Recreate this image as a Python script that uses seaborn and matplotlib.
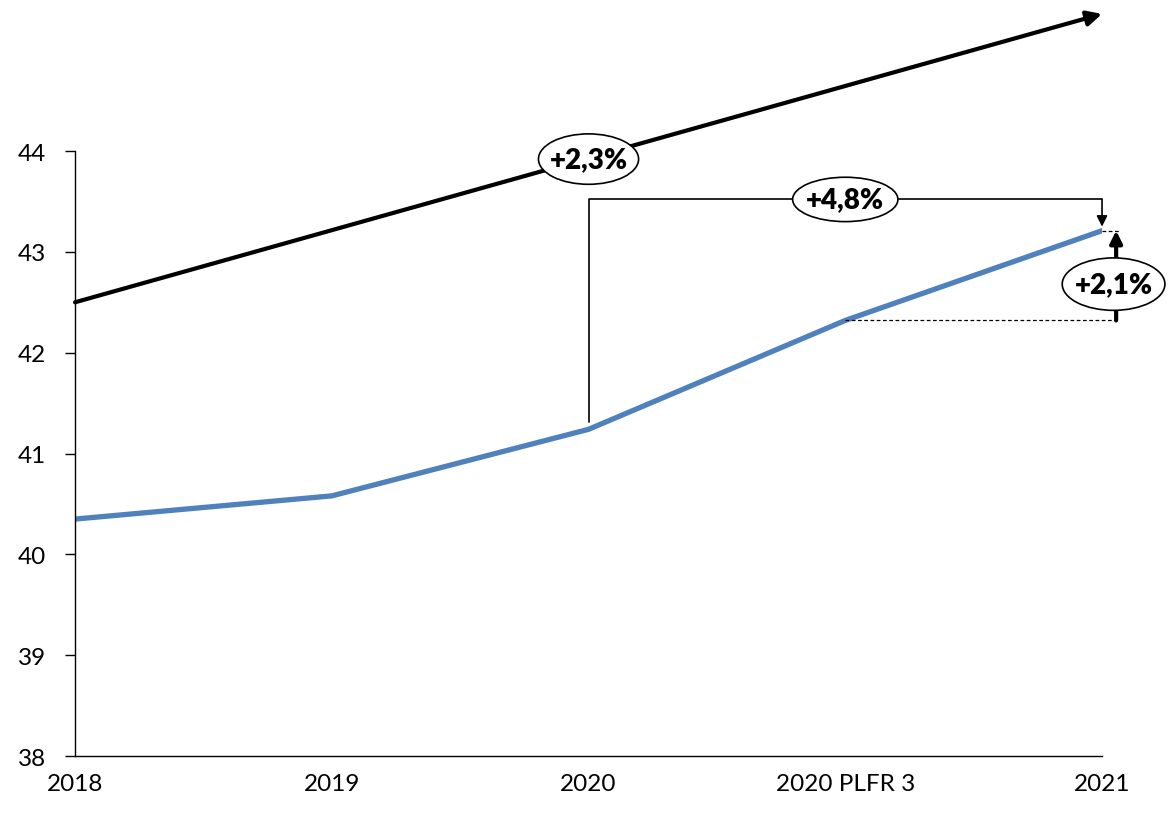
import pandas as pd
import seaborn as sns
import matplotlib.pyplot as plt
from matplotlib.patches import Ellipse

categories = ["2018", "2019", "2020", "2020 PLFR 3", "2021"]
values = [40.35, 40.58, 41.24, 42.32, 43.21]
trend_start = 42.50
trend_end = 45.36
labels = ["+2,3%", "+4,8%", "+2,1%"]

df = pd.DataFrame({"x": range(len(categories)), "val": values})

sns.set_style("white")
plt.rcParams['font.family'] = ['Lato', 'DejaVu Sans']
plt.rcParams['text.color'] = 'black'
plt.rcParams['xtick.color'] = 'black'
plt.rcParams['ytick.color'] = 'black'

fig = plt.figure(figsize=(11.69, 8.2), dpi=100)
ax = fig.add_axes([0.0642, 0.0768, 0.8785, 0.7378])

sns.lineplot(data=df, x="x", y="val", color="#4F81BD", linewidth=3.8, ax=ax)

last = len(categories) - 1

# black trend arrow running above the plot
ax.annotate("", xy=(last, trend_end), xytext=(0, trend_start),
            annotation_clip=False,
            arrowprops=dict(arrowstyle="-|>", color="black", lw=3,
                            mutation_scale=22, shrinkA=0, shrinkB=0))

# bracket from 2020 to 2021
ax.plot([2, 2, last], [values[2] + 0.07, 43.52, 43.52], color="black", lw=1.2, clip_on=False)
ax.annotate("", xy=(last, values[-1] + 0.04), xytext=(last, 43.52), annotation_clip=False,
            arrowprops=dict(arrowstyle="-|>", color="black", lw=1.2,
                            mutation_scale=16, shrinkA=0, shrinkB=0))

# dashed guides and small up arrow
ax.plot([3, 4.07], [values[3], values[3]], color="black", lw=0.9, ls=(0, (3, 2)), clip_on=False)
ax.plot([last, 4.07], [values[-1], values[-1]], color="black", lw=0.9, ls=(0, (3, 2)), clip_on=False)
ax.annotate("", xy=(4.055, values[-1]), xytext=(4.055, values[3]), annotation_clip=False,
            arrowprops=dict(arrowstyle="-|>", color="black", lw=3,
                            mutation_scale=18, shrinkA=0, shrinkB=0))

# ellipse labels
spots = [(2.0, 43.92, 0.39, 0.50), (3.0, 43.52, 0.41, 0.44), (4.045, 42.68, 0.40, 0.52)]
for (cx, cy, w, h), lab in zip(spots, labels):
    ax.add_patch(Ellipse((cx, cy), w, h, fc="white", ec="black", lw=1.2,
                         clip_on=False, zorder=5))
    ax.text(cx, cy, lab, ha="center", va="center", fontsize=20,
            fontweight="heavy", zorder=6, clip_on=False)

ax.set_xlim(0, last)
ax.set_ylim(38, 44)
ax.set_xticks(range(len(categories)))
ax.set_xticklabels(categories)
ax.set_yticks(range(38, 45))
ax.set_xlabel("")
ax.set_ylabel("")
ax.tick_params(axis="y", length=7, width=1, direction="out", left=True, labelsize=17.5, pad=14)
ax.tick_params(axis="x", length=0, labelsize=17.5, pad=12)
for s in ["top", "right"]:
    ax.spines[s].set_visible(False)
for s in ["left", "bottom"]:
    ax.spines[s].set_color("black")
    ax.spines[s].set_linewidth(1)

fig.savefig("out.png", dpi=100)
